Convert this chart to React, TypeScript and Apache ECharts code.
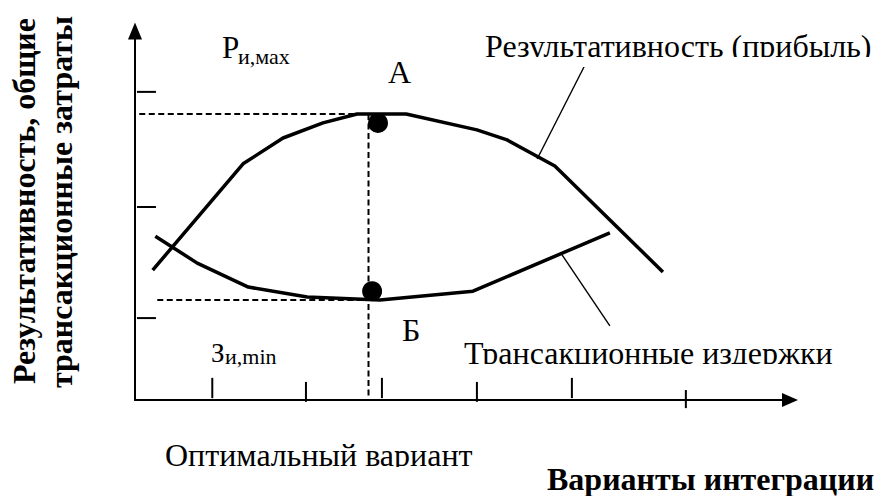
import React, { useEffect, useRef } from "react";
import * as echarts from "echarts";

// Curve data (x: integration variants, y: effectiveness / transaction costs)
const profitX = [0.27, 1.65, 2.26, 2.87, 3.39, 4.14, 5.22, 5.68, 6.41, 8.06];
const profitY = [3.52, 6.4, 7.1, 7.51, 7.75, 7.75, 7.32, 7.05, 6.34, 3.47];
const costX = [0.31, 0.95, 1.73, 2.63, 3.74, 5.16, 7.25];
const costY = [4.44, 3.71, 3.06, 2.79, 2.71, 2.95, 4.53];

// Optimum points A (max result) and Б (min costs)
const pointA = [3.71, 7.51];
const pointB = [3.62, 2.95];
const optimumX = 3.565;
const maxLevel = 7.75;
const minLevel = 2.71;

// Hand-drawn tick marks
const yTickLevels = [8.35, 5.23, 2.22];
const yTickSpan = [0.03, 0.32];
const xTickPositions = [1.18, 2.61, 3.77, 5.22, 6.67, 8.41];
const xTickTops = [0.6, 0.49, 0.6, 0.49, 0.6, 0.27];
const xTickBottoms = [0.05, -0.05, 0.05, -0.05, 0.05, -0.22];

// Leader lines for curve captions
const profitLeader = [6.87, 9.08, 6.14, 6.53];
const costLeader = [6.52, 3.93, 7.25, 2.01];

// Texts
const yTitle1 = "Результативность, общие";
const yTitle2 = "трансакционные затраты";
const xTitle = "Варианты интеграции";
const profitLabel = "Результативность (прибыль)";
const costLabel = "Трансакционные издержки";
const optimumLabel = "Оптимальный вариант";

const FONT = '"Liberation Serif", "Times New Roman", serif';

export default function App() {
  const ref = useRef<HTMLDivElement>(null);
  useEffect(() => {
    if (!ref.current) return;
    const chart = echarts.init(ref.current, undefined, { renderer: "svg" });

    const profitData = profitX.map((x, i) => [x, profitY[i]]);
    const costData = costX.map((x, i) => [x, costY[i]]);
    const segments: number[][] = [];
    yTickLevels.forEach((y) => segments.push([yTickSpan[0], y, yTickSpan[1], y, 2]));
    xTickPositions.forEach((x, i) => segments.push([x, xTickTops[i], x, xTickBottoms[i], 2]));
    segments.push([...profitLeader, 1.4]);
    segments.push([...costLeader, 1.4]);

    const dashed = { color: "#000", width: 2, type: [6, 3.5] as any };

    const txt = (
      text: string,
      x: number,
      y: number,
      size: number,
      extra: any = {}
    ) => ({
      type: "text",
      x,
      y,
      z: 10,
      rotation: extra.rotation || 0,
      style: {
        text,
        fill: "#000",
        fontFamily: FONT,
        fontSize: size,
        fontWeight: extra.bold ? "bold" : "normal",
        align: extra.align || "left",
        verticalAlign: "middle",
      },
    });
    const cover = (x: number, y: number, w: number, h: number) => ({
      type: "rect",
      z: 11,
      shape: { x, y, width: w, height: h },
      style: { fill: "#fff" },
    });

    chart.setOption({
      animation: false,
      backgroundColor: "#fff",
      grid: { left: 135, right: 85, top: 31, bottom: 96 },
      xAxis: {
        type: "value",
        min: 0,
        max: 10,
        offset: 8,
        splitLine: { show: false },
        axisTick: { show: false },
        axisLabel: { show: false },
        axisLine: {
          show: true,
          symbol: ["none", "triangle"],
          symbolSize: [14, 16],
          lineStyle: { color: "#000", width: 2 },
        },
      },
      yAxis: {
        type: "value",
        min: 0,
        max: 10,
        offset: 6,
        splitLine: { show: false },
        axisTick: { show: false },
        axisLabel: { show: false },
        axisLine: {
          show: true,
          symbol: ["none", "triangle"],
          symbolSize: [14, 17],
          lineStyle: { color: "#000", width: 2 },
        },
      },
      series: [
        {
          type: "line",
          data: profitData,
          symbol: "none",
          clip: false,
          lineStyle: { color: "#000", width: 3.5 },
        },
        {
          type: "line",
          data: costData,
          symbol: "none",
          clip: false,
          lineStyle: { color: "#000", width: 3.5 },
        },
        {
          type: "line",
          data: [
            [-0.08, maxLevel],
            [profitX[4], maxLevel],
          ],
          symbol: "none",
          clip: false,
          lineStyle: dashed,
        },
        {
          type: "line",
          data: [
            [optimumX, maxLevel],
            [optimumX, 0.08],
          ],
          symbol: "none",
          clip: false,
          lineStyle: dashed,
        },
        {
          type: "line",
          data: [
            [0.34, minLevel],
            [costX[4], minLevel],
          ],
          symbol: "none",
          clip: false,
          lineStyle: dashed,
        },
        {
          type: "scatter",
          data: [pointA, pointB],
          symbol: "circle",
          symbolSize: 20,
          itemStyle: { color: "#000", opacity: 1 },
          z: 5,
        },
        {
          type: "custom",
          clip: false,
          data: segments,
          renderItem: (params: any, api: any) => {
            const p1 = api.coord([api.value(0), api.value(1)]);
            const p2 = api.coord([api.value(2), api.value(3)]);
            return {
              type: "line",
              shape: { x1: p1[0], y1: p1[1], x2: p2[0], y2: p2[1] },
              style: { stroke: "#000", lineWidth: api.value(4) },
            };
          },
        },
      ],
      graphic: [
        txt(yTitle1, 24, 201, 32, { bold: true, align: "center", rotation: Math.PI / 2 }),
        txt(yTitle2, 61, 202, 32, { bold: true, align: "center", rotation: Math.PI / 2 }),
        txt("Р", 222, 47.5, 31),
        txt("и,мах", 238, 56, 22),
        txt("А", 388, 72.2, 32),
        txt(profitLabel, 485, 46.2, 32),
        txt("Б", 402, 330.2, 32),
        txt("З", 211, 353, 27),
        txt("и,min", 225, 356, 22),
        txt(costLabel, 464, 352.5, 32),
        txt(optimumLabel, 165, 455.2, 32),
        txt(xTitle, 547, 479.2, 32, { bold: true }),
        cover(480, 57, 395, 10),
        cover(460, 364, 390, 10),
        cover(160, 467, 330, 10),
      ],
    });
    return () => chart.dispose();
  }, []);
  return (
    <div
      ref={ref}
      style={{ position: "fixed", left: 0, top: 0, width: 875, height: 496, background: "#fff" }}
    />
  );
}
